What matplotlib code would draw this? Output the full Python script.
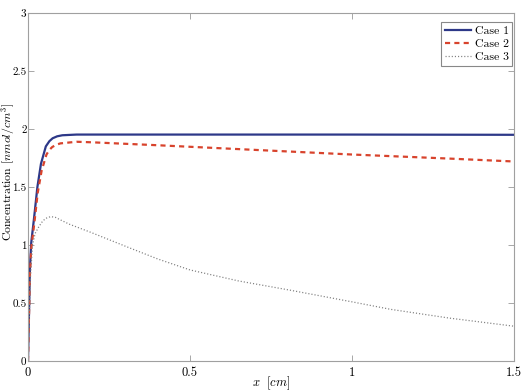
import matplotlib
matplotlib.use("Agg")
import matplotlib.pyplot as plt

# Data
x1 = [0, 0.003, 0.006, 0.01, 0.019, 0.029, 0.04, 0.055, 0.066, 0.076, 0.09, 0.106, 0.15, 0.2, 0.5, 1.0, 1.5]
y1 = [0, 0.4, 0.8, 1.02, 1.24, 1.5, 1.7, 1.85, 1.895, 1.92, 1.937, 1.946, 1.952, 1.952, 1.952, 1.952, 1.95]

x2 = [0, 0.003, 0.006, 0.01, 0.02, 0.03, 0.042, 0.057, 0.066, 0.075, 0.087, 0.1, 0.15, 0.2, 0.4, 0.7, 1.0, 1.3, 1.5]
y2 = [0, 0.38, 0.75, 0.97, 1.2, 1.45, 1.64, 1.78, 1.82, 1.845, 1.864, 1.876, 1.89, 1.885, 1.86, 1.82, 1.78, 1.745, 1.72]

x3 = [0, 0.004, 0.008, 0.014, 0.022, 0.034, 0.045, 0.055, 0.07, 0.085, 0.096, 0.127, 0.193, 0.3, 0.4,
      0.5, 0.65, 0.81, 1.0, 1.12, 1.3, 1.5]
y3 = [0, 0.4, 0.75, 1.0, 1.1, 1.16, 1.205, 1.23, 1.245, 1.238, 1.222, 1.18, 1.11, 0.99, 0.88,
      0.785, 0.69, 0.61, 0.51, 0.445, 0.37, 0.30]

labels = ["Case 1", "Case 2", "Case 3"]
xticks = [0, 0.5, 1, 1.5]
xticklabels = ["0", "0.5", "1", "1.5"]
yticks = [0, 0.5, 1, 1.5, 2, 2.5, 3]
yticklabels = ["0", "0.5", "1", "1.5", "2", "2.5", "3"]

plt.rcParams["mathtext.fontset"] = "cm"
plt.rcParams["font.family"] = ["cmr10", "DejaVu Serif"]
plt.rcParams["axes.formatter.use_mathtext"] = True

fig = plt.figure(figsize=(5.22, 3.92), dpi=100)
ax = fig.add_axes([28/522, 31/392, 486/522, 348/392])

ax.plot(x1, y1, color="#2d3888", lw=1.6, ls="-", label=labels[0])
ax.plot(x2, y2, color="#d8432c", lw=1.6, ls=(0, (2.3, 1.9)), label=labels[1])
ax.plot(x3, y3, color="#808080", lw=0.9, ls=(0, (0.9, 1.6)), label=labels[2])

ax.set_xlim(0, 1.5)
ax.set_ylim(0, 3)
ax.set_xticks(xticks)
ax.set_xticklabels(xticklabels)
ax.set_yticks(yticks)
ax.set_yticklabels(yticklabels)
ax.tick_params(axis="both", direction="in", top=True, right=True, length=4, width=0.6,
               color="#999999", labelsize=9)
ax.tick_params(axis="x", pad=4)
ax.tick_params(axis="y", pad=1, labelsize=8)
for s in ax.spines.values():
    s.set_color("#a0a0a0")
    s.set_linewidth(0.8)

ax.set_xlabel(r"$x\ \ [cm]$", fontsize=9)
ax.xaxis.set_label_coords(0.5, -0.040)
ax.set_ylabel(r"Concentration $[nmol/cm^3]$", fontsize=8.5)
ax.yaxis.set_label_coords(-0.0235, 0.543)

leg = ax.legend(loc="upper right", bbox_to_anchor=(0.996, 0.974), fontsize=8.5,
                frameon=True, fancybox=False, edgecolor="#888888", framealpha=1,
                handlelength=2.2, handletextpad=0.3, borderpad=0.3,
                labelspacing=0.25, borderaxespad=0.0)
leg.get_frame().set_linewidth(0.8)

fig.savefig("out.png", dpi=100)
